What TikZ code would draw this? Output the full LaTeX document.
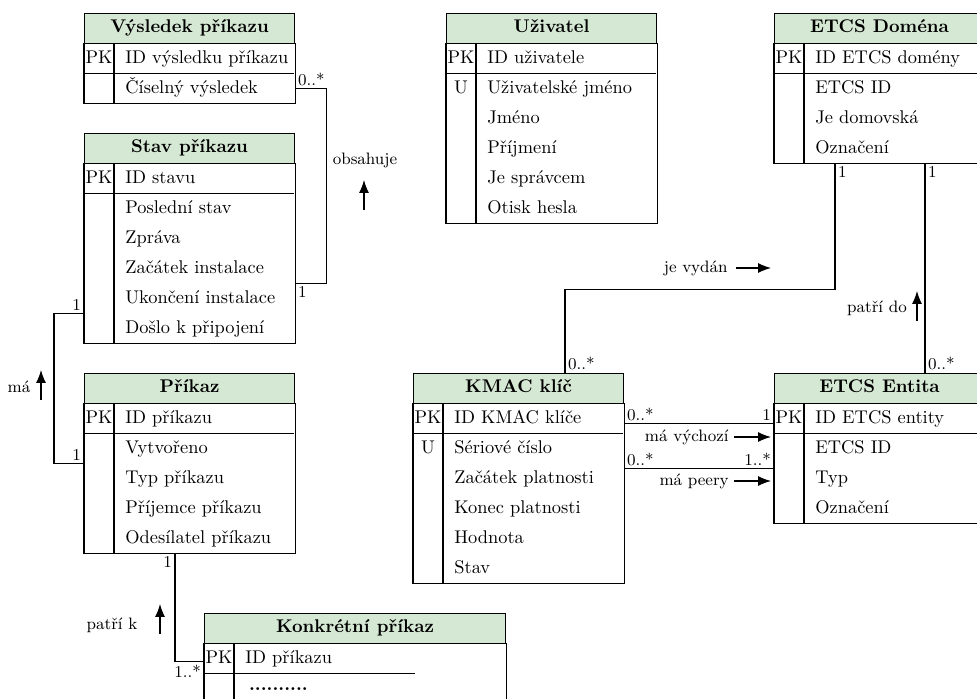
\documentclass[tikz,border=0pt]{standalone}
\usepackage{fontspec}
\usetikzlibrary{calc,arrows.meta}

\definecolor{hdrgreen}{HTML}{D5E8D4}
% one drawing unit (px) in points
\newcommand\pxlen{0.5435pt}
% placeholder row text
\newcommand\ertdots{\hspace{2pt}\raisebox{1.5pt}{\bfseries ..........}}

\tikzset{
  tblline/.style={draw=black, line width=0.6pt},
  hdrbox/.style={draw=black, line width=0.6pt, fill=hdrgreen, anchor=north west,
    minimum height={30*\pxlen}, inner sep=0pt, text height=7pt, text depth=2pt,
    font=\bfseries},
  keycell/.style={inner sep=0pt, text height=7pt, text depth=2pt},
  fieldcell/.style={anchor=west, inner sep=0pt, text height=7pt, text depth=2pt},
  mult/.style={font=\small, inner sep=1.5pt},
  rolelbl/.style={font=\small, inner sep=0pt},
  conn/.style={draw=black, line width=0.6pt},
  dirarrow/.style={draw=black, line width=0.6pt, -{Latex[length=7pt,width=5.4pt]}},
}

% entity table: name, top-left corner, width, title, length of the key-row rule, rows (key/text)
\newcommand\erentity[6]{%
  \node[hdrbox, minimum width={#3*\pxlen}] (#1) at (#2) {#4};
  \foreach \ekey/\etext [count=\i] in {#6}{%
    \node[keycell] (#1-k\i) at ($(#1.south west)+(15,{30*\i-15})$) {\ekey};
    \node[fieldcell] (#1-f\i) at ($(#1.south west)+(41,{30*\i-15})$) {\etext};
    \xdef\ernrows{\i}%
  }
  \coordinate (#1-bl) at ($(#1.south west)+(0,{30*\ernrows})$);
  \coordinate (#1-br) at ($(#1.south east)+(0,{30*\ernrows})$);
  \draw[tblline] (#1.south west) rectangle (#1-br);
  \draw[tblline] ($(#1.south west)+(30,0)$) -- ($(#1-bl)+(30,0)$);
  \draw[tblline] ($(#1.south west)+(0,30)$) -- ++(#5,0);
}

\begin{document}
\begin{tikzpicture}[x=0.5435pt, y=-0.5435pt]
\useasboundingbox (0,0) rectangle (977,698);
\clip (0,0) rectangle (977,698);

% ---------- entities ----------
\erentity{res}{84,12.5}{210}{Výsledek příkazu}{210}{PK/ID výsledku příkazu, /Číselný výsledek}
\erentity{stav}{84,132.5}{210}{Stav příkazu}{210}{PK/ID stavu, /Poslední stav, /Zpráva, /Začátek instalace, /Ukončení instalace, /Došlo k připojení}
\erentity{cmd}{84,372.5}{210}{Příkaz}{210}{PK/ID příkazu, /Vytvořeno, /Typ příkazu, /Příjemce příkazu, /Odesílatel příkazu}
\erentity{conc}{204,612.5}{301}{Konkrétní příkaz}{211}{PK/ID příkazu, /\ertdots}
\erentity{user}{446,12.5}{210}{Uživatel}{210}{PK/ID uživatele, U/Uživatelské jméno, /Jméno, /Příjmení, /Je správcem, /Otisk hesla}
\erentity{dom}{774,12.5}{210}{ETCS Doména}{210}{PK/ID ETCS domény, /ETCS ID, /Je domovská, /Označení}
\erentity{kmac}{413,372.5}{210}{KMAC klíč}{210}{PK/ID KMAC klíče, U/Sériové číslo, /Začátek platnosti, /Konec platnosti, /Hodnota, /Stav}
\erentity{ent}{774,372.5}{210}{ETCS Entita}{210}{PK/ID ETCS entity, /ETCS ID, /Typ, /Označení}

% ---------- relationships ----------
% obsahuje
\coordinate (res-a) at ($(res.south east)+(0,45)$);
\coordinate (stav-a) at ($(stav.south east)+(0,120)$);
\draw[conn] (res-a) -- ++(31,0) |- (stav-a);
\node[mult, anchor=south west] (m-res-a) at (res-a) {0..*};
\node[mult, anchor=north west] (m-stav-a) at (stav-a) {1};
\node[rolelbl] (lbl-obs) at (365,160) {obsahuje};
\draw[dirarrow] ($(lbl-obs.center)+(-1,50)$) -- ++(0,-30);

% má
\coordinate (stav-b) at ($(stav.south west)+(0,150)$);
\coordinate (cmd-b) at ($(cmd.south west)+(0,60)$);
\draw[conn] (stav-b) -- ++(-30,0) |- (cmd-b);
\node[mult, anchor=south east] (m-stav-b) at (stav-b) {1};
\node[mult, anchor=south east] (m-cmd-b) at (cmd-b) {1};
\node[rolelbl] (lbl-ma) at (19,387) {má};
\draw[dirarrow] ($(lbl-ma.center)+(22,13)$) -- ++(0,-30);

% patří k
\coordinate (cmd-c) at ($(cmd-bl)+(91,0)$);
\coordinate (conc-c) at ($(conc.south west)+(0,18)$);
\draw[conn] (cmd-c) |- (conc-c);
\node[mult, anchor=north east] (m-cmd-c) at (cmd-c) {1};
\node[mult, anchor=north east] (m-conc-c) at (conc-c) {1..*};
\node[rolelbl] (lbl-patk) at (112,625) {patří k};
\draw[dirarrow] ($(lbl-patk.center)+(48,9)$) -- ++(0,-30);

% je vydán
\coordinate (dom-d) at ($(dom-bl)+(61,0)$);
\coordinate (kmac-d) at ($(kmac.north west)+(152,0)$);
\draw[conn] (dom-d) -- ++(0,125.5) -| (kmac-d);
\node[mult, anchor=north west] (m-dom-d) at (dom-d) {1};
\node[mult, anchor=south west] (m-kmac-d) at (kmac-d) {0..*};
\node[rolelbl, anchor=east] (lbl-vyd) at (728,268) {je vydán};
\draw[dirarrow] ($(lbl-vyd.east)+(8,0)$) -- ++(35,0);

% patří do
\coordinate (dom-e) at ($(dom-bl)+(151,0)$);
\coordinate (ent-e) at (dom-e |- ent.north);
\draw[conn] (dom-e) -- (ent-e);
\node[mult, anchor=north west] (m-dom-e) at (dom-e) {1};
\node[mult, anchor=south west] (m-ent-e) at (ent-e) {0..*};
\node[rolelbl] (lbl-patd) at (877,308) {patří do};
\draw[dirarrow] ($(lbl-patd.center)+(40,13)$) -- ++(0,-30);

% má výchozí
\coordinate (kmac-f) at ($(kmac.south east)+(0,20)$);
\coordinate (ent-f) at (kmac-f -| ent.west);
\draw[conn] (kmac-f) -- (ent-f);
\node[mult, anchor=south west] (m-kmac-f) at (kmac-f) {0..*};
\node[mult, anchor=south east] (m-ent-f) at (ent-f) {1};
\node[rolelbl, anchor=east] (lbl-vych) at (729,437) {má výchozí};
\draw[dirarrow] ($(lbl-vych.east)+(5,0)$) -- ++(37,0);

% má peery
\coordinate (kmac-g) at ($(kmac.south east)+(0,65)$);
\coordinate (ent-g) at (kmac-g -| ent.west);
\draw[conn] (kmac-g) -- (ent-g);
\node[mult, anchor=south west] (m-kmac-g) at (kmac-g) {0..*};
\node[mult, anchor=south east] (m-ent-g) at (ent-g) {1..*};
\node[rolelbl, anchor=east] (lbl-peer) at (729,481) {má peery};
\draw[dirarrow] ($(lbl-peer.east)+(5,0)$) -- ++(37,0);
\end{tikzpicture}
\end{document}
